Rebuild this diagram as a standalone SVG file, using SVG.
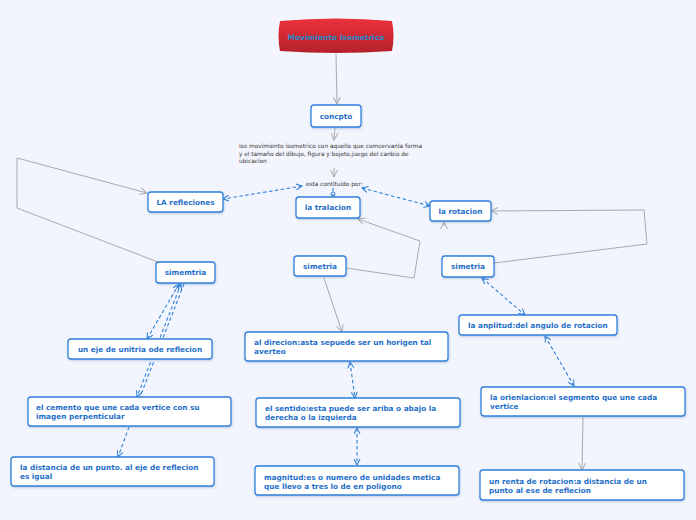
<svg xmlns="http://www.w3.org/2000/svg" width="696" height="520" viewBox="0 0 696 520">
<style>
.bg{fill:#f2f5fd}
.box{fill:#ffffff;stroke:#2f80da;stroke-width:1.3;filter:url(#sh)}
.t{font-family:"DejaVu Sans",Verdana,sans-serif;font-weight:bold;font-size:7.3px;fill:#1f70c9}
.tc{text-anchor:middle}
.p{font-family:"DejaVu Sans",Verdana,sans-serif;font-size:5.8px;fill:#333}
.g{fill:none;stroke:#aaaaaa;stroke-width:1}
.d{fill:none;stroke:#2f80da;stroke-width:1.1;stroke-dasharray:3.5 2.5}
</style>
<defs>
<filter id="sh" x="-10%" y="-20%" width="120%" height="150%">
<feDropShadow dx="0.5" dy="1" stdDeviation="0.8" flood-color="#6a8fc0" flood-opacity="0.45"/>
</filter>
<linearGradient id="red" x1="0" y1="0" x2="0" y2="1">
<stop offset="0" stop-color="#ec323b"/>
<stop offset="1" stop-color="#b4202b"/>
</linearGradient>
<marker id="ga" viewBox="0 0 8 8" refX="7" refY="4" markerWidth="8" markerHeight="8" markerUnits="userSpaceOnUse" orient="auto-start-reverse">
<path d="M0,0.5 L7,4 L0,7.5" fill="none" stroke="#aaaaaa" stroke-width="1"/>
</marker>
<marker id="ba" viewBox="0 0 8 8" refX="7" refY="4" markerWidth="7" markerHeight="7" markerUnits="userSpaceOnUse" orient="auto-start-reverse">
<path d="M0,0.5 L7,4 L0,7.5" fill="none" stroke="#2f80da" stroke-width="1.2"/>
</marker>
</defs>
<rect class="bg" x="0" y="0" width="696" height="520"/>

<g id="connectors">
<line class="g" x1="336" y1="54" x2="337" y2="104" marker-end="url(#ga)"/>
<line class="g" x1="335" y1="128" x2="334" y2="140" marker-end="url(#ga)"/>
<line class="g" x1="334" y1="168" x2="334" y2="177" marker-end="url(#ga)"/>
<line class="d" x1="302" y1="186" x2="223" y2="199" marker-start="url(#ba)" marker-end="url(#ba)"/>
<line class="d" x1="362" y1="188" x2="430" y2="206" marker-start="url(#ba)" marker-end="url(#ba)"/>
<line class="d" x1="333" y1="188" x2="333" y2="197"/>
<circle cx="333" cy="194" r="2" fill="none" stroke="#2f80da" stroke-width="1"/>
<polyline class="g" points="158,262 17,208 17,158 147,193" marker-end="url(#ga)"/>
<polyline class="g" points="346,268 414,278 420,241 358,219" marker-end="url(#ga)"/>
<polyline class="g" points="494,263 647,244 644,210 491,211" marker-end="url(#ga)"/>
<line class="g" x1="444" y1="226" x2="444" y2="222" marker-end="url(#ga)"/>
<line class="g" x1="324" y1="278" x2="342" y2="332" marker-end="url(#ga)"/>
<line class="d" x1="179" y1="284" x2="147" y2="339" marker-start="url(#ba)" marker-end="url(#ba)"/>
<line class="d" x1="181" y1="284" x2="137" y2="397" marker-start="url(#ba)" marker-end="url(#ba)"/>
<line class="d" x1="184" y1="284" x2="140" y2="397"/>
<line class="d" x1="129" y1="427" x2="118" y2="457" marker-end="url(#ba)"/>
<line class="d" x1="350" y1="362" x2="355" y2="398" marker-start="url(#ba)" marker-end="url(#ba)"/>
<line class="d" x1="357" y1="428" x2="357" y2="465" marker-start="url(#ba)" marker-end="url(#ba)"/>
<line class="d" x1="482" y1="278" x2="525" y2="315" marker-start="url(#ba)" marker-end="url(#ba)"/>
<line class="d" x1="545" y1="336" x2="574" y2="386" marker-start="url(#ba)" marker-end="url(#ba)"/>
<line class="g" x1="583" y1="417" x2="582" y2="470" marker-end="url(#ga)"/>
</g>

<g id="title">
<path d="M280,21 Q336,16 392,21 Q395,36 392,51 Q336,55 280,51 Q277,36 280,21 Z" fill="url(#red)"/>
<text class="t tc" x="336" y="39.5" style="fill:#2a86c8;font-size:7.5px">Movimiento Isometrico</text>
</g>

<g id="concpto">
<rect class="box" x="311" y="105" width="50" height="22" rx="3"/>
<text class="t tc" x="336" y="119">concpto</text>
</g>

<g id="definicion">
<text class="p" x="239" y="148">los movimiento isometrico con aquello que comcervanla forma</text>
<text class="p" x="239" y="156">y el tamaño del dibujo, figura y bojeto.juego del canbio de</text>
<text class="p" x="239" y="163">ubicacion</text>
</g>

<g id="contituido">
<text class="p" x="306" y="185.5">esta contituido por:</text>
</g>

<g id="refleciones">
<rect class="box" x="148" y="192" width="75" height="20" rx="3"/>
<text class="t tc" x="185.5" y="204.5">LA refleciones</text>
</g>

<g id="tralacion">
<rect class="box" x="296" y="197" width="64" height="21" rx="3"/>
<text class="t tc" x="328" y="210">la tralacion</text>
</g>

<g id="rotacion">
<rect class="box" x="430" y="201" width="61" height="20" rx="3"/>
<text class="t tc" x="460.5" y="213.5">la rotacion</text>
</g>

<g id="simemtria">
<rect class="box" x="156" y="262" width="59" height="21" rx="3"/>
<text class="t tc" x="185.5" y="275">simemtria</text>
</g>

<g id="simetria1">
<rect class="box" x="294" y="256" width="52" height="20" rx="3"/>
<text class="t tc" x="320" y="268.5">simetria</text>
</g>

<g id="simetria2">
<rect class="box" x="442" y="256" width="52" height="21" rx="3"/>
<text class="t tc" x="468" y="269">simetria</text>
</g>

<g id="uneje">
<rect class="box" x="68" y="339" width="144" height="20" rx="3"/>
<text class="t tc" x="140" y="352">un eje de unitria ode reflecion</text>
</g>

<g id="cemento">
<rect class="box" x="28" y="397" width="203" height="29" rx="3"/>
<text class="t" x="36" y="410">el cemento que une cada vertice con su</text>
<text class="t" x="36" y="419">imagen perpenticular</text>
</g>

<g id="distancia">
<rect class="box" x="11" y="457" width="203" height="29" rx="3"/>
<text class="t" x="20" y="470">la distancia de un punto. al eje de reflecion</text>
<text class="t" x="20" y="479">es igual</text>
</g>

<g id="direcion">
<rect class="box" x="245" y="332" width="203" height="29" rx="3"/>
<text class="t" x="254" y="345">al direcion:asta sepuede ser un horigen tal</text>
<text class="t" x="254" y="354">averteo</text>
</g>

<g id="sentido">
<rect class="box" x="256" y="398" width="204" height="29" rx="3"/>
<text class="t" x="265" y="411">el sentido:esta puede ser ariba o abajo la</text>
<text class="t" x="265" y="420">derecha o la izquierda</text>
</g>

<g id="magnitud">
<rect class="box" x="255" y="466" width="204" height="29" rx="3"/>
<text class="t" x="264" y="480">magnitud:es o numero de unidades metica</text>
<text class="t" x="264" y="489">que llevo a tres lo de en poligono</text>
</g>

<g id="anplitud">
<rect class="box" x="459" y="315" width="158" height="20" rx="3"/>
<text class="t" x="468" y="328">la anplitud:del angulo de rotacion</text>
</g>

<g id="orienlacion">
<rect class="box" x="481" y="387" width="204" height="29" rx="3"/>
<text class="t" x="490" y="400">la orienlacion:el segmento que une cada</text>
<text class="t" x="490" y="409">vertice</text>
</g>

<g id="renta">
<rect class="box" x="480" y="470" width="204" height="30" rx="3"/>
<text class="t" x="489" y="484">un renta de rotacion:a distancia de un</text>
<text class="t" x="489" y="493">punto al ese de reflecion</text>
</g>
</svg>
